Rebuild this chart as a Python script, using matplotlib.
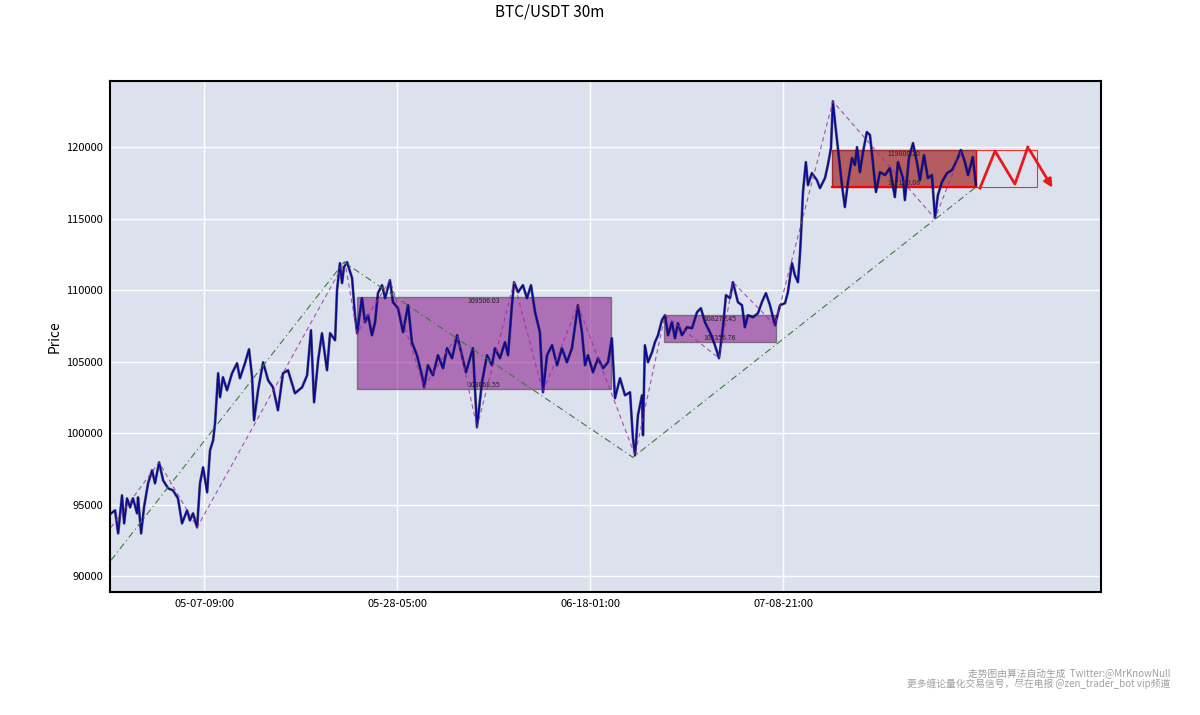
import matplotlib
matplotlib.use("Agg")
import matplotlib.pyplot as plt
from matplotlib.patches import Rectangle

plt.rcParams['font.family'] = ['Noto Sans CJK SC', 'DejaVu Sans']

# ---------------- data ----------------
# bar index (30m bars) and approximate price
bars = [18, 39, 55, 75, 86, 101, 117, 132, 153, 158, 174, 189, 210, 231, 246, 267, 288, 314, 339, 365,
        386, 412, 427, 443, 464, 479, 495, 516, 531, 547, 557, 573, 583, 598, 619, 645, 671, 686, 712, 733,
        749, 759, 780, 806, 832, 857, 883, 909, 935, 971, 1008, 1034, 1054, 1070, 1091, 1111, 1137, 1153, 1179, 1189,
        1204, 1215, 1225, 1241, 1267, 1282, 1293, 1318, 1334, 1350, 1370, 1386, 1401, 1422, 1438, 1463, 1479, 1505, 1531, 1557,
        1577, 1603, 1629, 1640, 1660, 1686, 1712, 1738, 1759, 1785, 1811, 1836, 1857, 1878, 1893, 1914, 1940, 1966, 1992, 2007,
        2033, 2059, 2075, 2095, 2106, 2127, 2152, 2173, 2194, 2215, 2240, 2256, 2277, 2303, 2329, 2354, 2380, 2406, 2437, 2458,
        2474, 2489, 2515, 2541, 2567, 2593, 2613, 2629, 2655, 2681, 2707, 2722, 2733, 2748, 2769, 2774, 2784, 2800, 2821, 2836,
        2852, 2872, 2888, 2904, 2924, 2940, 2955, 2976, 3002, 3028, 3054, 3074, 3095, 3121, 3147, 3168, 3188, 3204, 3225, 3240,
        3266, 3287, 3302, 3318, 3344, 3370, 3390, 3411, 3432, 3458, 3484, 3510, 3525, 3546, 3561, 3577, 3587, 3592, 3598, 3603,
        3618, 3629, 3649, 3675, 3691, 3717, 3732, 3748, 3758, 3769, 3784, 3805, 3820, 3836, 3857, 3872, 3883, 3898, 3914, 3934,
        3950, 3965, 3981, 4002, 4028, 4053, 4079, 4095, 4121, 4131, 4152, 4173, 4193, 4209, 4230, 4250, 4271, 4287, 4302, 4323,
        4349, 4375, 4401, 4421, 4442, 4458, 4483, 4499]
prices = [94380, 94590, 92980, 95640, 93680, 95430, 94800, 95430, 94380, 95500, 92980, 94800, 96480, 97390, 96480, 97950, 96690, 96130, 95990, 95430,
          93680, 94590, 93890, 94380, 93400, 96480, 97600, 95850, 98790, 99490, 100680, 104180, 102500, 103900, 102990, 104180, 104880, 103830, 104880, 105860,
          103900, 100890, 102990, 104950, 103690, 103200, 101590, 104180, 104390, 102780, 103200, 104040, 107190, 102150, 105090, 106980, 104390, 106980, 106490, 109990,
          111880, 110480, 111600, 111950, 110830, 108240, 106980, 109430, 107750, 108240, 106840, 107750, 109780, 110340, 109430, 110690, 109150, 108730, 107050, 108940,
          106350, 105440, 104040, 103200, 104740, 104040, 105440, 104530, 105930, 105230, 106840, 105440, 104250, 105230, 105930, 100400, 103550, 105440, 104740, 105930,
          105230, 106350, 105440, 108940, 110550, 109850, 110340, 109430, 110340, 108450, 107050, 102850, 105440, 106140, 104740, 105930, 104950, 105930, 108940, 107050,
          104740, 105440, 104250, 105230, 104530, 104950, 106630, 102430, 103830, 102640, 102850, 99630, 98440, 101240, 102640, 99840, 106140, 104950, 105650, 106350,
          106840, 107890, 108240, 106840, 107750, 106630, 107680, 106840, 107400, 107330, 108450, 108730, 107750, 107050, 106140, 105230, 107330, 109640, 109430, 110550,
          109150, 108940, 107400, 108240, 108100, 108380, 109150, 109780, 108940, 107540, 108940, 109080, 109850, 111880, 111040, 110550, 112440, 113630, 115450, 116850,
          118950, 117340, 118180, 117690, 117130, 117830, 118740, 119930, 123200, 121750, 119930, 117340, 115800, 117550, 119230, 118740, 120000, 118250, 119650, 121050,
          120840, 118950, 116850, 118250, 118040, 118530, 116500, 118950, 117830, 116290, 119230, 120280, 118950, 117690, 119440, 117830, 118040, 115030, 116640, 117550,
          118180, 118390, 119090, 119790, 118950, 118040, 119300, 117340]

# bi (stroke) pivots
bi_bars = [18, 267, 464, 1230, 1293, 1463, 1640, 1811, 1914, 2106, 2256, 2437, 2733, 2888, 3168, 3240, 3458, 3758, 4287, 4426]
bi_prices = [93400, 97950, 93400, 111980, 106980, 110690, 103200, 106840, 100400, 110550, 102850, 108940, 98440, 108240,
             105230, 110550, 107540, 123200, 115000, 119790]

# segment pivots
seg_bars = [18, 1225, 2722, 4499]
seg_prices = [91100, 111950, 98300, 117200]

# pivot zones (zhongshu)
zs_start = [1293, 2883, 3753]
zs_end = [2608, 3463, 4499]
zs_low = [103068.55, 106356.76, 117180.08]
zs_high = [109506.03, 108272.45, 119800.20]

# projection
proj_bars = [4520, 4598, 4701, 4768, 4903]
proj_prices = [117130, 119720, 117410, 120000, 116990]
proj_box_bars = [4499, 4815]

tick_bars = [500, 1500, 2500, 3500]
tick_labels = ['05-07-09:00', '05-28-05:00', '06-18-01:00', '07-08-21:00']
y_ticks = [90000, 95000, 100000, 105000, 110000, 115000, 120000]

# ---------------- figure ----------------
fig = plt.figure(figsize=(12, 7.15), dpi=100)
ax = fig.add_axes([0.0917, 0.172, 0.8258, 0.7147])
ax.set_facecolor('#DCE2ED')
ax.set_xlim(13, 5147)
ax.set_ylim(88880, 124620)

ax.set_xticks(tick_bars)
ax.set_xticklabels(tick_labels)
ax.set_yticks(y_ticks)
ax.grid(True, color='white', lw=1.0, alpha=0.9)
ax.set_axisbelow(True)
ax.tick_params(length=0, labelsize=8, pad=5)
for s in ax.spines.values():
    s.set_color('black')
    s.set_linewidth(1.5)

# zones
for i in range(len(zs_start)):
    if i < 2:
        fc, alpha, ec = 'purple', 0.5, '#333333'
    else:
        fc, alpha, ec = 'brown', 0.72, '#8B0000'
    ax.add_patch(Rectangle((zs_start[i], zs_low[i]), zs_end[i] - zs_start[i], zs_high[i] - zs_low[i],
                           facecolor=fc, alpha=alpha, edgecolor=ec, lw=1.0, zorder=2))
    xc = (zs_start[i] + zs_end[i]) / 2
    ax.text(xc, zs_high[i], f'{zs_high[i]:.2f}', fontsize=5, ha='center', va='top', zorder=5,
            color='#222222')
    ax.text(xc, zs_low[i], f'{zs_low[i]:.2f}', fontsize=5, ha='center', va='bottom', zorder=5,
            color='#222222')

ax.plot([zs_start[2], zs_end[2]], [zs_low[2], zs_low[2]], color='red', lw=1.5, zorder=3)

# projection box and zigzag
ax.add_patch(Rectangle((proj_box_bars[0], zs_low[2]), proj_box_bars[1] - proj_box_bars[0],
                       zs_high[2] - zs_low[2], facecolor='none', edgecolor='red', lw=0.8, alpha=0.8, zorder=3))
ax.plot(proj_bars[:-1], proj_prices[:-1], color='#E8191E', lw=2, zorder=4)
ax.annotate('', xy=(proj_bars[-1], proj_prices[-1]), xytext=(proj_bars[-2], proj_prices[-2]),
            arrowprops=dict(arrowstyle='-|>', color='#E8191E', lw=2, mutation_scale=12), zorder=4)

# price
ax.plot(bars, prices, color='black', lw=2.0, zorder=3, alpha=0.5)
ax.plot(bars, prices, color='#0B0B9A', lw=1.3, zorder=3)

# bi and segments
ax.plot(bi_bars, bi_prices, color='#A0289A', lw=0.8, ls=(0, (4, 3)), zorder=4, alpha=0.8)
ax.plot(seg_bars, seg_prices, color='#3A7A3A', lw=0.8, ls=(0, (6, 3, 1, 3)), zorder=4)

ax.set_ylabel('Price', fontsize=10, labelpad=3)

fig.text(0.458, 0.995, 'BTC/USDT 30m', ha='center', va='top', fontsize=11)
fig.text(0.975, 0.058, '走势图由算法自动生成  Twitter:@MrKnowNull', ha='right', va='center',
         fontsize=7, color='#A0A0A0')
fig.text(0.975, 0.044, '更多缠论量化交易信号，尽在电报 @zen_trader_bot vip频道', ha='right', va='center',
         fontsize=7, color='#A0A0A0')

fig.savefig('out.png', dpi=100)
